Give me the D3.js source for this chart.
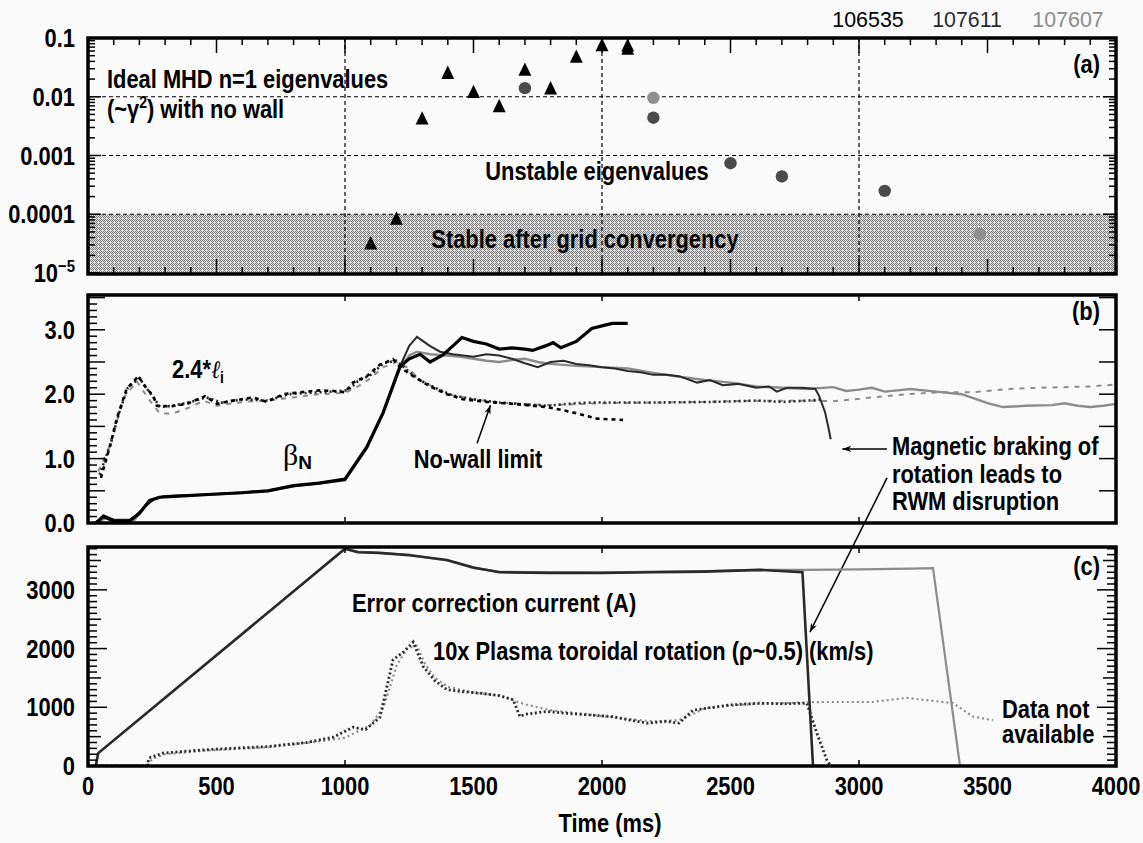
<!DOCTYPE html>
<html>
<head>
<meta charset="utf-8">
<script src="https://cdn.jsdelivr.net/npm/d3@7"></script>
<style>
  body { margin: 0; background: #fafafa; }
  svg text { font-family: "Liberation Sans Narrow", "Arial Narrow", "Liberation Sans", sans-serif; font-weight: bold; fill: #000; }
</style>
</head>
<body>
<div class="CHART"></div>
<script>
// shots shown in the figure (legend, top right)
var shots = ["106535", "107611", "107607"];

// panel (a): ideal MHD n=1 eigenvalues, [time ms, eigenvalue]
var eig106535 = [[1100, 3.0e-5], [1200, 7.9e-5], [1300, 0.004], [1400, 0.024], [1500, 0.0113],
                 [1600, 0.0065], [1700, 0.027], [1800, 0.013], [1900, 0.045], [2000, 0.071],
                 [2100, 0.062], [2100, 0.07]];
var eig107611 = [[1700, 0.014], [2200, 0.0044], [2500, 0.00074], [2700, 0.00044], [3100, 0.00025]];
var eig107607 = [[2200, 0.0096], [3470, 4.6e-5]];
var logTickLabels = ["0.1", "0.01", "0.001", "0.0001"];

// panel (b): beta_N and no-wall limit (2.4*li), [time ms, value]
var betaN106535 = [[30, 0.0], [60, 0.1], [100, 0.03], [160, 0.03], [200, 0.15], [240, 0.35], [280, 0.4],
  [370, 0.42], [500, 0.45], [600, 0.47], [700, 0.5], [800, 0.58], [900, 0.62], [1000, 0.68],
  [1085, 1.18], [1148, 1.71], [1214, 2.43], [1250, 2.55], [1292, 2.62], [1331, 2.5], [1381, 2.61],
  [1420, 2.75], [1455, 2.88], [1500, 2.82], [1550, 2.78], [1600, 2.7], [1650, 2.72], [1700, 2.7],
  [1730, 2.68], [1780, 2.75], [1810, 2.8], [1840, 2.72], [1900, 2.82], [1960, 3.02], [2000, 3.06],
  [2040, 3.1], [2100, 3.1]];
var betaN107611 = [[30, 0.0], [60, 0.12], [100, 0.05], [170, 0.05], [220, 0.25], [260, 0.38], [300, 0.42],
  [400, 0.43], [500, 0.45], [700, 0.5], [800, 0.58], [1000, 0.67], [1085, 1.18], [1148, 1.71],
  [1214, 2.43], [1250, 2.75], [1280, 2.89], [1330, 2.75], [1370, 2.66], [1420, 2.62], [1460, 2.6],
  [1500, 2.58], [1550, 2.62], [1600, 2.6], [1650, 2.55], [1700, 2.48], [1750, 2.42], [1800, 2.5],
  [1850, 2.52], [1900, 2.47], [1950, 2.45], [2000, 2.42], [2050, 2.4], [2100, 2.36], [2150, 2.34],
  [2200, 2.3], [2250, 2.3], [2300, 2.28], [2370, 2.18], [2420, 2.22], [2470, 2.14], [2530, 2.16],
  [2600, 2.1], [2650, 2.12], [2680, 2.04], [2720, 2.1], [2780, 2.1], [2830, 2.08], [2845, 1.97],
  [2868, 1.72], [2880, 1.5], [2890, 1.3]];
var betaN107607 = [[30, 0.0], [70, 0.08], [110, 0.04], [180, 0.04], [230, 0.3], [270, 0.4], [320, 0.42],
  [500, 0.44], [700, 0.5], [800, 0.57], [1000, 0.66], [1085, 1.16], [1148, 1.7], [1214, 2.4],
  [1250, 2.6], [1280, 2.66], [1330, 2.62], [1400, 2.6], [1450, 2.58], [1500, 2.55], [1550, 2.52],
  [1600, 2.5], [1650, 2.53], [1700, 2.55], [1750, 2.5], [1800, 2.47], [1900, 2.44], [2000, 2.42],
  [2100, 2.4], [2200, 2.33], [2300, 2.27], [2400, 2.22], [2500, 2.18], [2600, 2.12], [2700, 2.1],
  [2800, 2.08], [2900, 2.11], [2950, 2.05], [3000, 2.07], [3050, 2.1], [3100, 2.04], [3150, 2.06],
  [3200, 2.08], [3300, 2.04], [3400, 2.0], [3450, 1.93], [3500, 1.86], [3560, 1.8], [3650, 1.82],
  [3750, 1.83], [3800, 1.86], [3850, 1.82], [3900, 1.8], [3950, 1.82], [4000, 1.85]];
var noWall106535 = [[50, 0.7], [86, 1.2], [112, 1.62], [150, 2.08], [196, 2.28], [222, 2.12], [254, 1.97],
  [268, 1.82], [319, 1.81], [385, 1.85], [455, 1.97], [502, 1.85], [565, 1.9], [642, 1.95],
  [695, 1.88], [760, 2.0], [825, 2.03], [903, 2.06], [954, 2.05], [1000, 2.03], [1031, 2.18],
  [1085, 2.28], [1136, 2.46], [1187, 2.54], [1214, 2.42], [1265, 2.28], [1331, 2.12], [1397, 2.0],
  [1459, 1.92], [1552, 1.88], [1654, 1.85], [1786, 1.8], [1850, 1.75], [1914, 1.69], [1981, 1.62],
  [2082, 1.6]];
var noWall107611 = [[45, 0.75], [90, 1.25], [120, 1.7], [155, 2.1], [200, 2.25], [230, 2.08], [260, 1.92],
  [280, 1.8], [330, 1.82], [400, 1.88], [460, 1.95], [520, 1.87], [600, 1.92], [700, 1.9],
  [780, 2.0], [860, 2.02], [950, 2.04], [1010, 2.06], [1050, 2.2], [1100, 2.3], [1150, 2.48],
  [1200, 2.52], [1240, 2.38], [1290, 2.22], [1350, 2.1], [1420, 1.98], [1500, 1.92], [1600, 1.87],
  [1700, 1.84], [1786, 1.82], [1900, 1.86], [1965, 1.87], [2175, 1.87], [2432, 1.88], [2603, 1.9],
  [2700, 1.88], [2800, 1.9], [2860, 1.92]];
var noWall107607 = [[40, 0.8], [80, 1.15], [110, 1.55], [140, 1.95], [190, 2.2], [215, 2.05], [250, 1.85],
  [280, 1.7], [330, 1.7], [400, 1.8], [450, 1.9], [500, 1.82], [600, 1.88], [700, 1.9], [800, 1.95],
  [900, 2.0], [1000, 2.02], [1050, 2.12], [1100, 2.25], [1150, 2.42], [1200, 2.5], [1240, 2.42],
  [1300, 2.2], [1400, 2.0], [1500, 1.92], [1600, 1.87], [1700, 1.85], [1800, 1.83], [2000, 1.86],
  [2200, 1.87], [2400, 1.88], [2600, 1.9], [2800, 1.9], [2900, 1.89], [3054, 1.95], [3186, 2.0],
  [3315, 2.03], [3444, 2.03], [3575, 2.08], [3704, 2.1], [3899, 2.12], [4000, 2.15]];

// panel (c): error correction current (A) and 10x toroidal rotation (km/s)
var errCur107611 = [[30, 0], [40, 220], [1000, 3700], [1050, 3640], [1136, 3630], [1250, 3590],
  [1397, 3510], [1500, 3380], [1600, 3300], [1800, 3290], [2000, 3290], [2200, 3300], [2400, 3310],
  [2615, 3340], [2780, 3300], [2821, 0]];
var errCur107607 = [[30, 0], [40, 220], [1000, 3700], [1050, 3650], [1136, 3625], [1250, 3600],
  [1397, 3500], [1500, 3370], [1600, 3310], [1800, 3300], [2000, 3295], [2200, 3310], [2400, 3320],
  [2615, 3340], [2800, 3340], [3000, 3350], [3200, 3360], [3288, 3370], [3393, 0]];
var rot107611 = [[0, 0], [229, 0], [238, 140], [292, 220], [436, 270], [550, 300], [695, 330], [850, 400],
  [954, 490], [1031, 660], [1080, 620], [1136, 830], [1163, 1350], [1187, 1810], [1230, 1950],
  [1265, 2110], [1305, 1690], [1350, 1450], [1397, 1300], [1450, 1270], [1525, 1240], [1600, 1200],
  [1654, 1130], [1681, 840], [1700, 880], [1786, 930], [1850, 900], [1950, 870], [2043, 840],
  [2100, 790], [2175, 730], [2250, 760], [2300, 730], [2354, 950], [2432, 1000], [2500, 1040],
  [2615, 1070], [2700, 1060], [2797, 1070], [2836, 560], [2875, 100], [2890, 0]];
var rot107607 = [[0, 0], [229, 0], [250, 120], [300, 200], [450, 260], [700, 320], [900, 420], [1000, 480],
  [1100, 700], [1150, 1000], [1200, 1700], [1240, 2000], [1280, 2050], [1310, 1750], [1350, 1500],
  [1400, 1350], [1500, 1250], [1600, 1200], [1700, 1050], [1800, 950], [1900, 900], [2000, 850],
  [2100, 800], [2200, 760], [2300, 780], [2400, 980], [2500, 1030], [2600, 1060], [2700, 1070],
  [2848, 1090], [3050, 1090], [3186, 1160], [3366, 1070], [3444, 840], [3521, 780]];

var xTicks = [0, 500, 1000, 1500, 2000, 2500, 3000, 3500, 4000];
var bTicks = [0, 1, 2, 3];
var cTicks = [0, 1000, 2000, 3000];

var W = 1143, H = 843;
var shotColor = {"106535": "#000", "107611": "#2a2a2a", "107607": "#8c8c8c"};
var squeeze = 0.875;   // no condensed font installed, so squeeze the bold sans

var svg = d3.select(".CHART").append("svg")
  .attr("width", W).attr("height", H)
  .style("background", "#fafafa");

var defs = svg.append("defs");
// dithered grey for the "stable" band
var pat = defs.append("pattern").attr("id", "stipple").attr("patternUnits", "userSpaceOnUse")
  .attr("width", 4).attr("height", 4);
pat.append("rect").attr("width", 4).attr("height", 4).attr("fill", "#e2e2e2");
[[0, 0], [2, 0], [1, 1], [3, 1], [0, 2], [3, 3], [1, 3]].forEach(function(p) {
  pat.append("rect").attr("x", p[0]).attr("y", p[1]).attr("width", 1).attr("height", 1).attr("fill", "#7c7c7c");
});
defs.append("marker").attr("id", "arrow").attr("viewBox", "0 0 10 10").attr("refX", 10).attr("refY", 5)
  .attr("markerWidth", 14).attr("markerHeight", 9).attr("markerUnits", "userSpaceOnUse")
  .attr("orient", "auto")
  .append("path").attr("d", "M0,1.5 L10,5 L0,8.5 L3,5 Z").attr("fill", "#000");

var x = d3.scaleLinear().domain([0, 4000]).range([88, 1116]);
var ya = d3.scaleLog().domain([1e-5, 0.1]).range([273, 38]);
var yb = d3.scaleLinear().domain([0, 3.54]).range([523, 295]);
var yc = d3.scaleLinear().domain([0, 3730]).range([766, 547]);

function clip(id, y0, y1) {
  defs.append("clipPath").attr("id", id).append("rect")
    .attr("x", x(0)).attr("y", y0).attr("width", x(4000) - x(0)).attr("height", y1 - y0);
}
clip("ca", 38, 274); clip("cb", 295, 523); clip("cc", 547, 766);

function lineOf(ys) {
  return d3.line().x(function(d) { return x(d[0]); }).y(function(d) { return ys(d[1]); });
}

// inward ticks on the four sides of a panel
function xTickMarks(y0, y1, step, lenFn) {
  var g = svg.append("g").attr("stroke", "#000").attr("stroke-width", 1.5);
  d3.range(0, 4001, step).forEach(function(t) {
    var L = lenFn(t);
    g.append("line").attr("x1", x(t)).attr("x2", x(t)).attr("y1", y0).attr("y2", y0 + L);
    g.append("line").attr("x1", x(t)).attr("x2", x(t)).attr("y1", y1).attr("y2", y1 - L);
  });
}
function yTickMarks(vals, ys, lenL, lenR) {
  var g = svg.append("g").attr("stroke", "#000").attr("stroke-width", 1.5);
  vals.forEach(function(v) {
    var l = lenL(v), r = lenR(v);
    if (l) g.append("line").attr("x1", x(0)).attr("x2", x(0) + l).attr("y1", ys(v)).attr("y2", ys(v));
    if (r) g.append("line").attr("x1", x(4000)).attr("x2", x(4000) - r).attr("y1", ys(v)).attr("y2", ys(v));
  });
}
function frame(y0, y1) {
  svg.append("rect").attr("x", x(0)).attr("y", y0).attr("width", x(4000) - x(0)).attr("height", y1 - y0)
    .attr("fill", "none").attr("stroke", "#000").attr("stroke-width", 3.5);
}
function label(txt, px, py, anchor, weight) {
  return svg.append("text").attr("transform", "translate(" + px + "," + py + ") scale(" + squeeze + ",1)")
    .attr("text-anchor", anchor || "start")
    .style("font-size", "25px").style("font-weight", weight || "bold").text(txt);
}

// ---------- panel (a) ----------
svg.append("rect").attr("x", x(0)).attr("y", ya(1e-4)).attr("width", x(4000) - x(0))
  .attr("height", ya(1e-5) - ya(1e-4) + 1).attr("fill", "url(#stipple)");
var grid = svg.append("g").attr("stroke", "#000").attr("stroke-width", 1.2).attr("stroke-dasharray", "4,3");
[0.01, 0.001, 0.0001].forEach(function(v) {
  grid.append("line").attr("x1", x(0)).attr("x2", x(4000)).attr("y1", ya(v)).attr("y2", ya(v));
});
[1000, 2000, 3000].forEach(function(t) {
  grid.append("line").attr("x1", x(t)).attr("x2", x(t)).attr("y1", 38).attr("y2", 274);
});
xTickMarks(38, 274, 100, function(t) { return t % 500 === 0 ? 15 : 7; });
var logVals = [];
d3.range(-5, -1 + 1).forEach(function(e) {
  d3.range(1, 10).forEach(function(k) { if (e < -1 || k === 1) logVals.push(k * Math.pow(10, e)); });
});
function isDecade(v) { return Math.abs(Math.log10(v) - Math.round(Math.log10(v))) < 1e-9; }
yTickMarks(logVals, ya, function(v) { return isDecade(v) ? 13 : 7; },
  function(v) { return isDecade(v) ? 13 : 7; });

label("Stable after grid convergency", 585, 248, "middle");
label("Unstable eigenvalues", 597, 180, "middle");
label("Ideal MHD n=1 eigenvalues", 107, 88);
var t2 = label("(~", 107, 118);
t2.append("tspan").text("γ");
t2.append("tspan").attr("dy", -10).style("font-size", "16px").text("2");
t2.append("tspan").attr("dy", 10).text(") with no wall");
label("(a)", 1100, 73, "end");

var pa = svg.append("g").attr("clip-path", "url(#ca)");
pa.selectAll("circle.c07").data(eig107607.concat(eig107611)).enter().append("circle")
  .attr("cx", function(d) { return x(d[0]); }).attr("cy", function(d) { return ya(d[1]); })
  .attr("r", 6.2)
  .attr("fill", function(d, i) { return i < eig107607.length ? "#8e8e8e" : "#4a4a4a"; });
pa.selectAll("path.tri").data(eig106535).enter().append("path")
  .attr("transform", function(d) { return "translate(" + x(d[0]) + "," + ya(d[1]) + ") scale(1,1.2)"; })
  .attr("d", d3.symbol().type(d3.symbolTriangle).size(72))
  .attr("fill", "#000");
frame(38, 274);

logTickLabels.forEach(function(s, i) {
  label(s, 75, ya(Math.pow(10, -1 - i)) + 9, "end");
});
var t5 = label("10", 75, ya(1e-5) + 9, "end");
t5.append("tspan").attr("dy", -10).style("font-size", "17px").text("−5");

// top legend
shots.forEach(function(s, i) {
  svg.append("text").attr("transform", "translate(" + [868, 967, 1068][i] + ",27) scale(0.93,1)")
    .attr("text-anchor", "middle")
    .style("font-size", "23px").style("font-weight", "normal").style("fill", shotColor[s]).text(s);
});

// ---------- panel (b) ----------
var pb = svg.append("g").attr("clip-path", "url(#cb)");
pb.append("path").datum(noWall107607).attr("d", lineOf(yb)).attr("fill", "none")
  .attr("stroke", shotColor["107607"]).attr("stroke-width", 2).attr("stroke-dasharray", "5,6");
pb.append("path").datum(betaN107607).attr("d", lineOf(yb)).attr("fill", "none")
  .attr("stroke", shotColor["107607"]).attr("stroke-width", 2.4);
pb.append("path").datum(noWall107611).attr("d", lineOf(yb)).attr("fill", "none")
  .attr("stroke", shotColor["107611"]).attr("stroke-width", 2.6).attr("stroke-dasharray", "2,3");
pb.append("path").datum(betaN107611).attr("d", lineOf(yb)).attr("fill", "none")
  .attr("stroke", shotColor["107611"]).attr("stroke-width", 2);
pb.append("path").datum(noWall106535).attr("d", lineOf(yb)).attr("fill", "none")
  .attr("stroke", "#000").attr("stroke-width", 2.6).attr("stroke-dasharray", "4,4");
pb.append("path").datum(betaN106535).attr("d", lineOf(yb)).attr("fill", "none")
  .attr("stroke", "#000").attr("stroke-width", 3.2);

xTickMarks(295, 523, 1000, function() { return 6; });
yTickMarks(d3.range(0, 36).map(function(i) { return i / 10; }), yb,
  function(v) { return Math.round(v * 10) % 5 === 0 ? 17 : 9; },
  function(v) { return Math.round(v * 10) % 5 === 0 ? 17 : 0; });
frame(295, 523);
bTicks.forEach(function(v) { label(v.toFixed(1), 75, yb(v) + 9, "end"); });
label("(b)", 1100, 320, "end");

var li = label("2.4*", 172, 378);
li.append("tspan").style("font-style", "italic").style("font-weight", "normal").style("font-family", "DejaVu Serif, serif").text("ℓ");
li.append("tspan").attr("dy", 5).style("font-size", "16px").text("i");
var bn = svg.append("text").attr("x", 283).attr("y", 465).style("font-size", "30px").style("font-weight", "normal")
  .style("font-family", "Liberation Serif, serif").text("β");
bn.append("tspan").attr("dy", 4).style("font-size", "19px").style("font-weight", "bold")
  .style("font-family", "Liberation Sans Narrow, Liberation Sans, sans-serif").text("N");
label("No-wall limit", 478, 468, "middle");
svg.append("line").attr("x1", x(1514)).attr("y1", yb(1.24)).attr("x2", x(1566)).attr("y2", yb(1.83))
  .attr("stroke", "#000").attr("stroke-width", 1.5).attr("marker-end", "url(#arrow)");

label("Magnetic braking of", 892, 455);
label("rotation leads to", 892, 483);
label("RWM disruption", 892, 510);
svg.append("line").attr("x1", x(3109)).attr("y1", yb(1.15)).attr("x2", x(2935)).attr("y2", yb(1.15))
  .attr("stroke", "#000").attr("stroke-width", 1.5).attr("marker-end", "url(#arrow)");
svg.append("line").attr("x1", x(3109)).attr("y1", yb(0.7)).attr("x2", x(2809)).attr("y2", yc(2280))
  .attr("stroke", "#000").attr("stroke-width", 1.5).attr("marker-end", "url(#arrow)");

// ---------- panel (c) ----------
var pc = svg.append("g").attr("clip-path", "url(#cc)");
pc.append("path").datum(rot107607).attr("d", lineOf(yc)).attr("fill", "none")
  .attr("stroke", shotColor["107607"]).attr("stroke-width", 2.2).attr("stroke-dasharray", "2,3");
pc.append("path").datum(errCur107607).attr("d", lineOf(yc)).attr("fill", "none")
  .attr("stroke", shotColor["107607"]).attr("stroke-width", 2.2);
pc.append("path").datum(rot107611).attr("d", lineOf(yc)).attr("fill", "none")
  .attr("stroke", shotColor["107611"]).attr("stroke-width", 2.8).attr("stroke-dasharray", "2,2.5");
pc.append("path").datum(errCur107611).attr("d", lineOf(yc)).attr("fill", "none")
  .attr("stroke", shotColor["107611"]).attr("stroke-width", 2.6);

xTickMarks(547, 766, 1000, function() { return 6; });
yTickMarks(d3.range(0, 3701, 100), yc,
  function(v) { return v % 1000 === 0 ? 19 : (v % 500 === 0 ? 13 : 9); },
  function(v) { return v % 1000 === 0 ? 19 : (v % 500 === 0 ? 13 : 9); });
frame(547, 766);
cTicks.forEach(function(v) { label(String(v), 75, yc(v) + 9, "end"); });
label("(c)", 1100, 575, "end");
label("Error correction current (A)", 352, 612);
label("10x Plasma toroidal rotation (ρ~0.5) (km/s)", 433, 660);
label("Data not", 1002, 718);
label("available", 1002, 743);

xTicks.forEach(function(t) { label(String(t), x(t), 795, "middle"); });
label("Time (ms)", 610, 832, "middle");
</script>
</body>
</html>
